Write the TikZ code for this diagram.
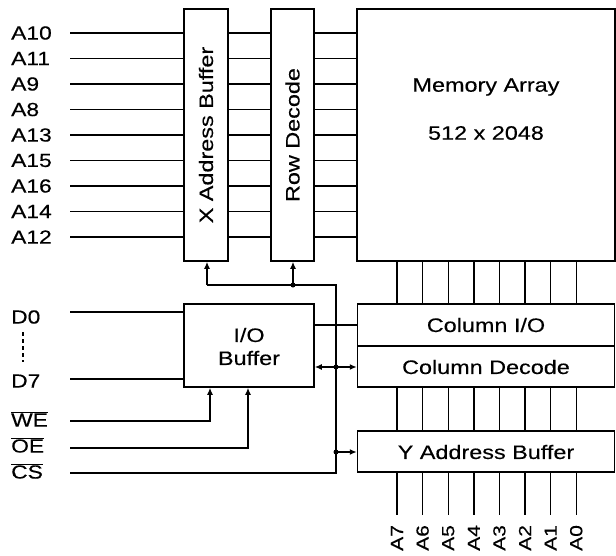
\documentclass[tikz,border=0pt]{standalone}
\usepackage{fontspec}
\setmainfont{Liberation Sans}[FakeStretch=1.2, FakeBold=0.3]
\usetikzlibrary{arrows.meta}
\tikzset{
  box/.style={draw, line width=1.5pt, rectangle, inner sep=0pt},
  lbl/.style={inner sep=0pt, font=\fontsize{19}{22}\selectfont},
  collbl/.style={inner sep=0pt, font=\fontsize{17.5}{20}\selectfont},
  txt/.style={inner sep=0pt, font=\fontsize{19.5}{23}\selectfont, align=center},
  wire/.style={line width=1.4pt},
  arr/.style={wire, -{Latex[length=7pt,width=6pt]}},
  arrtwo/.style={wire, {Latex[length=7pt,width=6pt]}-{Latex[length=7pt,width=6pt]}},
  dotmark/.style={fill, circle, inner sep=0pt, minimum size=5pt}
}
\begin{document}
\begin{tikzpicture}[x=1pt,y=-1pt]
\useasboundingbox (0,0) rectangle (616,555);
% blocks
\node[box, minimum width=44pt, minimum height=252pt] (xb) at (206,135) {};
\node[box, minimum width=43pt, minimum height=252pt] (rd) at (292.5,135) {};
\node[box, minimum width=258pt, minimum height=252pt] (mem) at (486,135) {};
\node[box, minimum width=130pt, minimum height=83pt] (iob) at (249,345.5) {};
\node[box, minimum width=257pt, minimum height=42pt] (cio) at (486,325) {};
\node[box, minimum width=257pt, minimum height=41pt] (cdec) at (486,366.5) {};
\node[box, minimum width=257pt, minimum height=41pt] (yb) at (486,451.5) {};
% block texts
\node[txt, rotate=90] (xbt) at (xb.center) {X Address Buffer};
\node[txt, rotate=90] (rdt) at (rd.center) {Row Decode};
\node[txt] (memt1) at (486,87) {Memory Array};
\node[txt] (memt2) at (486,133) {512 x 2048};
\node[txt] (iobt) at (249,346.5) {I/O\\Buffer};
\node[txt] (ciot) at (486,325) {Column I/O};
\node[txt] (cdect) at (486,367) {Column Decode};
\node[txt] (ybt) at (486,452) {Y Address Buffer};
% row address lines
\foreach \lab [count=\i] in {A10,A11,A9,A8,A13,A15,A16,A14,A12} {
  \pgfmathsetmacro\yy{33+25.5*(\i-1)}
  \node[lbl, anchor=west] (al\i) at (11,\yy) {\lab};
  \coordinate (as\i) at (70,\yy);
  \draw[wire] (as\i) -- (xb.west |- as\i);
  \draw[wire] (xb.east |- as\i) -- (rd.west |- as\i);
  \draw[wire] (rd.east |- as\i) -- (mem.west |- as\i);
}
% column lines
\foreach \lab [count=\i] in {A7,A6,A5,A4,A3,A2,A1,A0} {
  \pgfmathsetmacro\xx{397+25.6*(\i-1)}
  \coordinate (cx\i) at (\xx,0);
  \coordinate (ce\i) at (\xx,515);
  \draw[wire] (mem.south -| cx\i) -- (cio.north -| cx\i);
  \draw[wire] (cdec.south -| cx\i) -- (yb.north -| cx\i);
  \draw[wire] (yb.south -| cx\i) -- (ce\i);
  \node[collbl, rotate=90, anchor=west] (yl\i) at (\xx,551) {\lab};
}
% data lines
\node[lbl, anchor=west] (d0) at (11,317) {D0};
\node[lbl, anchor=west] (d7) at (11,381) {D7};
\coordinate (d0s) at (70,312);
\coordinate (d7s) at (70,379);
\draw[wire] (d0s) -- (iob.west |- d0s);
\draw[wire] (d7s) -- (iob.west |- d7s);
\coordinate (dda) at (23,332);
\coordinate (ddb) at (23,362);
\draw[wire, dash pattern=on 4pt off 3pt] (dda) -- (ddb);
% control inputs
\node[lbl, anchor=west] (we) at (11,419) {$\overline{\hbox{WE}}$};
\node[lbl, anchor=west] (oe) at (11,445) {$\overline{\hbox{OE}}$};
\node[lbl, anchor=west] (cs) at (11,471) {$\overline{\hbox{CS}}$};
\coordinate (wes) at (70,421);
\coordinate (wec) at (210,421);
\coordinate (oes) at (70,448);
\coordinate (oec) at (248,448);
\coordinate (css) at (70,473);
\coordinate (csc) at (336,473);
\draw[arr] (wes) -- (wec) -- (iob.south -| wec);
\draw[arr] (oes) -- (oec) -- (iob.south -| oec);
% chip select distribution
\coordinate (cj) at (336,285);
\coordinate (xa) at (207,285);
\coordinate (ra) at (293,285);
\coordinate (bj) at (336,367);
\coordinate (yj) at (336,452);
\draw[wire] (css) -- (csc) -- (cj) -- (xa);
\draw[arr] (xa) -- (xb.south -| xa);
\draw[arr] (ra) -- (rd.south -| ra);
\node[dotmark] (radot) at (ra) {};
\draw[arrtwo] (iob.east |- bj) -- (cdec.west |- bj);
\node[dotmark] (bjdot) at (bj) {};
\draw[arr] (yj) -- (yb.west |- yj);
\node[dotmark] (yjdot) at (yj) {};
% I/O to column I/O
\coordinate (ioc) at (314,325);
\draw[wire] (iob.east |- ioc) -- (cio.west |- ioc);
\end{tikzpicture}
\end{document}
